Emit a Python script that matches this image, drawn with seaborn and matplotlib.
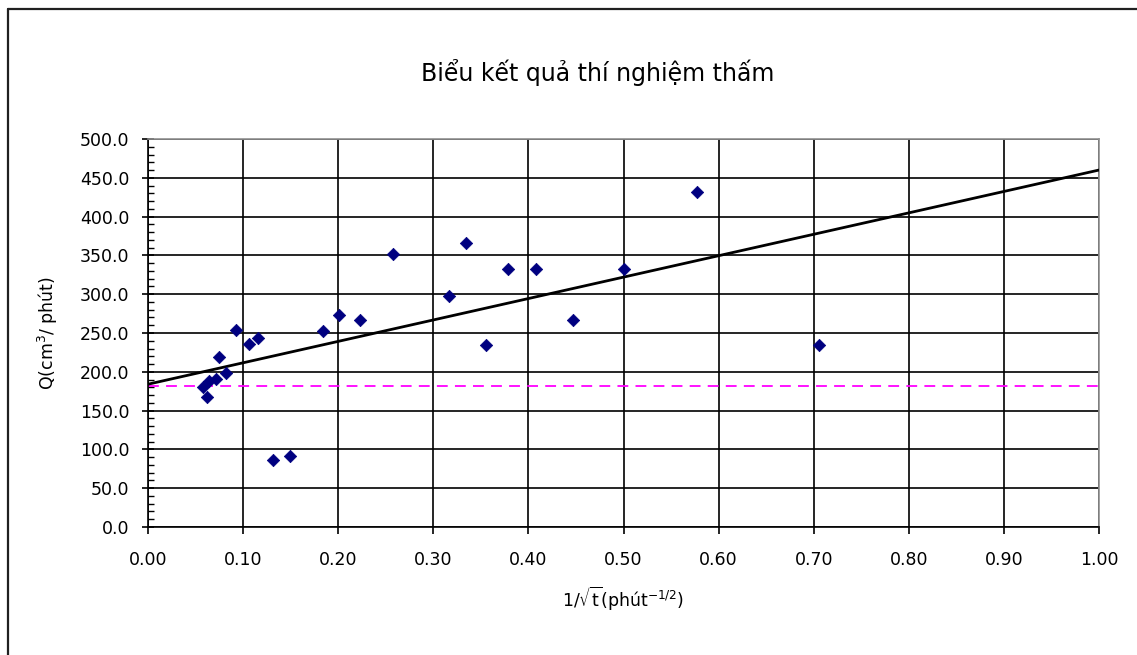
import numpy as np
import pandas as pd
import matplotlib
matplotlib.use("Agg")
import matplotlib.pyplot as plt
import seaborn as sns
from matplotlib.ticker import MultipleLocator, FormatStrFormatter
from matplotlib.lines import Line2D

# Measured points: x = 1/sqrt(t), Q in cm3/phut
x_vals = [0.058, 0.062, 0.064, 0.071, 0.075, 0.082, 0.093, 0.106, 0.116, 0.131,
          0.149, 0.184, 0.201, 0.223, 0.258, 0.317, 0.334, 0.355, 0.379, 0.408,
          0.447, 0.501, 0.577, 0.706]
q_vals = [180, 167, 188, 191, 219, 199, 254, 236, 244, 86,
          92, 253, 273, 267, 352, 298, 366, 235, 333, 333,
          267, 333, 432, 234]

# Trend line end points and the horizontal reference level
trend_x = [0.0, 1.0]
trend_y = [184, 460]
ref_q = 182

title = "Biểu kết quả thí nghiệm thấm"
xlabel = r"1/$\sqrt{\mathrm{t}}$(phút$^{\mathrm{-1/2}}$)"
ylabel = r"Q(cm$^{3}$/ phút)"

sns.set_style("white")
plt.rcParams['font.family'] = ['DejaVu Sans']
plt.rcParams['mathtext.fontset'] = 'dejavusans'
plt.rcParams['text.color'] = 'black'
plt.rcParams['axes.labelcolor'] = 'black'
plt.rcParams['xtick.color'] = 'black'
plt.rcParams['ytick.color'] = 'black'

df = pd.DataFrame({"x": x_vals, "q": q_vals})
trend = pd.DataFrame({"x": trend_x, "q": trend_y})

fig = plt.figure(figsize=(11.37, 6.55), dpi=100)
ax = fig.add_axes([148 / 1137, 1 - 527 / 655, (1099 - 148) / 1137, (527 - 139) / 655])

ax.set_xlim(0, 1.0)
ax.set_ylim(0, 500)

# grid
ax.xaxis.set_major_locator(MultipleLocator(0.1))
ax.yaxis.set_major_locator(MultipleLocator(50))
ax.yaxis.set_minor_locator(MultipleLocator(10))
ax.xaxis.set_major_formatter(FormatStrFormatter("%.2f"))
ax.yaxis.set_major_formatter(FormatStrFormatter("%.1f"))
ax.grid(True, which="major", color="black", linewidth=1.2)
ax.set_axisbelow(True)

ax.axhline(ref_q, color="#FF00FF", linewidth=1.3, linestyle=(0, (6, 4)), zorder=2)

sns.lineplot(data=trend, x="x", y="q", color="black", linewidth=2.0, ax=ax, zorder=3)
sns.scatterplot(data=df, x="x", y="q", marker="D", s=40, color="#000080",
                edgecolor="#000080", linewidth=0.5, ax=ax, zorder=4)

for side in ["top", "right"]:
    ax.spines[side].set_color("#909090")
    ax.spines[side].set_linewidth(1.2)
for side in ["left", "bottom"]:
    ax.spines[side].set_color("black")
    ax.spines[side].set_linewidth(1.2)

ax.tick_params(axis="x", which="major", direction="out", length=5, width=1.2,
               labelsize=12.5, pad=12, bottom=True)
ax.tick_params(axis="y", which="major", direction="inout", length=9, width=1.2,
               labelsize=12.5, pad=9, left=True)
ax.tick_params(axis="y", which="minor", direction="in", length=4, width=1.0,
               left=True)

ax.set_xlabel(xlabel, fontsize=12.5, labelpad=12)
ax.set_ylabel(ylabel, fontsize=12.5, labelpad=14)
fig.text(598 / 1137, 1 - 72 / 655, title, ha="center", va="center", fontsize=17)

# outer chart border (left and top edges visible)
fig.add_artist(Line2D([8 / 1137, 8 / 1137], [0, 1 - 9 / 655], transform=fig.transFigure,
                      color="#202020", linewidth=1.6))
fig.add_artist(Line2D([8 / 1137, 1], [1 - 9 / 655, 1 - 9 / 655], transform=fig.transFigure,
                      color="#202020", linewidth=1.6))

fig.savefig("out.png", dpi=100, facecolor="white")
